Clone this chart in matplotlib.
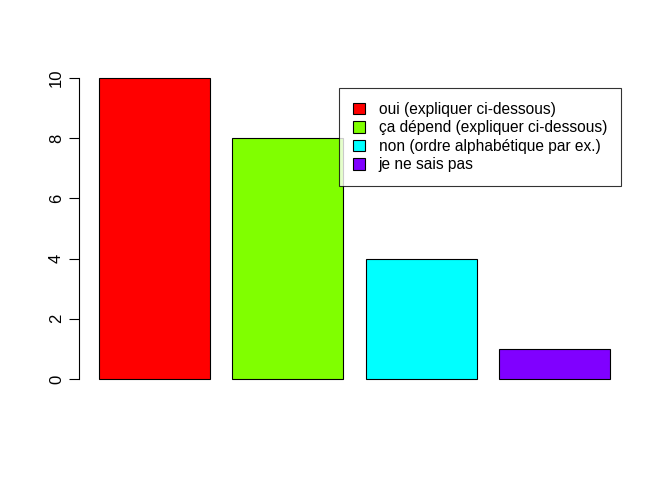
import matplotlib.pyplot as plt
from matplotlib.patches import Patch

# reponses et effectifs
categories = ["oui (expliquer ci-dessous)", "ça dépend (expliquer ci-dessous)",
              "non (ordre alphabétique par ex.)", "je ne sais pas"]
counts = [10, 8, 4, 1]
colors = ["#FF0000", "#80FF00", "#00FFFF", "#8000FF"]
yticks = [0, 2, 4, 6, 8, 10]

plt.rcParams['font.family'] = ['Liberation Sans', 'DejaVu Sans']

fig = plt.figure(figsize=(6.72, 4.8), dpi=100)
ax = fig.add_axes([0.117, 0.1854, 0.821, 0.6771])

# positions a la R: largeur 1, espace 0.2
xpos = [0.2 + 1.2 * i + 0.5 for i in range(len(counts))]
ax.bar(xpos, counts, width=1.0, color=colors, edgecolor='black', linewidth=0.8)

ax.set_xlim(0.016, 4.984)
ax.set_ylim(-0.4, 10.4)
ax.set_xticks([])
ax.set_yticks(yticks)
ax.set_yticklabels([str(v) for v in yticks], rotation=90, va='center', fontsize=12)
ax.tick_params(axis='y', length=7.5, width=0.8, pad=3)

for s in ['top', 'right', 'bottom']:
    ax.spines[s].set_visible(False)
ax.spines['left'].set_bounds(0, 10)
ax.spines['left'].set_linewidth(0.8)

handles = [Patch(facecolor=c, edgecolor='black', linewidth=0.8) for c in colors]
leg = fig.legend(handles, categories, loc='upper left',
                 bbox_to_anchor=(339 / 672, (480 - 88) / 480),
                 fontsize=11.2, frameon=True, fancybox=False,
                 handlelength=0.75, handleheight=0.75, handletextpad=0.9,
                 labelspacing=0.22, borderpad=0.9, borderaxespad=0)
leg.get_frame().set_edgecolor('black')
leg.get_frame().set_linewidth(0.8)

fig.savefig('out.png', dpi=100)
